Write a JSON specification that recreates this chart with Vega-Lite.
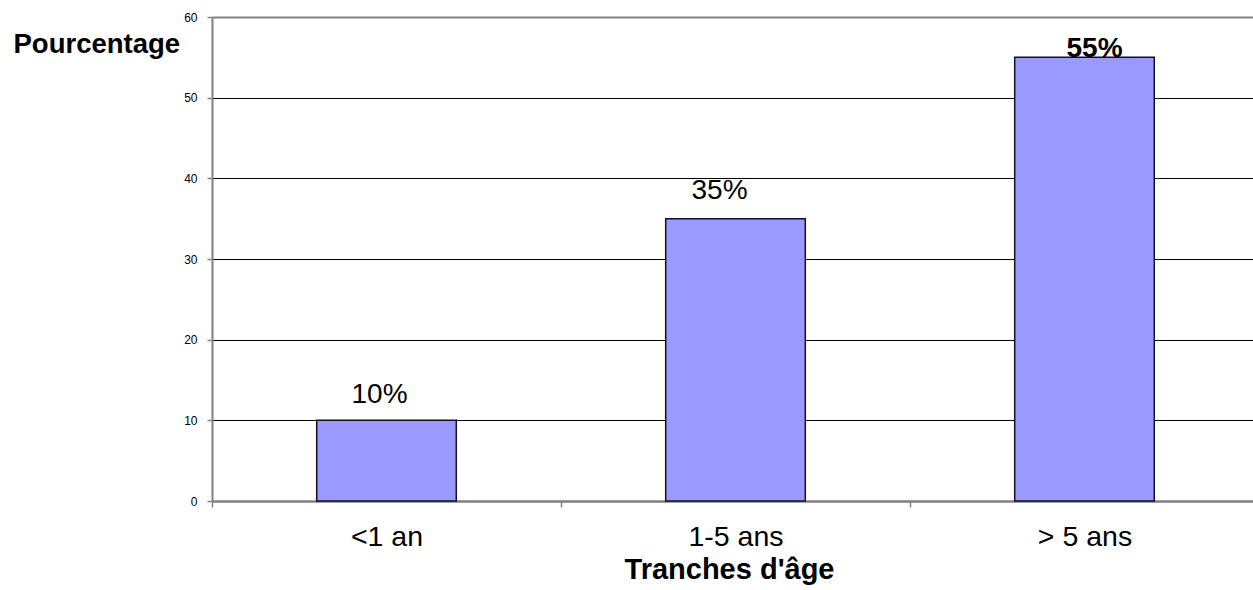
{
  "$schema": "https://vega.github.io/schema/vega-lite/v6.json",
  "autosize": "none",
  "padding": {"left": 212, "top": 17, "right": 0, "bottom": 89},
  "width": 1041,
  "height": 484,
  "background": "white",
  "config": {
    "view": {"stroke": null},
    "font": "Liberation Sans"
  },
  "data": {
    "values": [
      {"age": "<1 an", "pct": 10, "label": "10%"},
      {"age": "1-5 ans", "pct": 35, "label": "35%"},
      {"age": "> 5 ans", "pct": 55, "label": "55%"}
    ]
  },
  "encoding": {
    "x": {
      "field": "age",
      "type": "nominal",
      "sort": null,
      "scale": {"range": [0, 1047], "paddingInner": 0.6, "paddingOuter": 0.3},
      "axis": {
        "title": "Tranches d'âge",
        "titleFont": "Liberation Sans",
        "titleFontSize": 29,
        "titleFontWeight": "bold",
        "titleColor": "black",
        "titleX": 517,
        "titleY": 77,
        "titleAlign": "center",
        "titleAnchor": null,
        "titleBaseline": "alphabetic",
        "labelAngle": 0,
        "labelFont": "Liberation Sans",
        "labelFontSize": 28.5,
        "labelColor": "black",
        "labelBaseline": "alphabetic",
        "labelPadding": 38,
        "tickSize": 6,
        "tickOffset": -174.5,
        "labelOffset": 174.5,
        "tickColor": "#808080",
        "tickWidth": 1.5,
        "domainColor": "#808080",
        "domainWidth": 2,
        "grid": false
      }
    },
    "y": {
      "field": "pct",
      "type": "quantitative",
      "scale": {"domain": [0, 60], "nice": false},
      "axis": {
        "values": [0, 10, 20, 30, 40, 50, 60],
        "title": "Pourcentage",
        "titleFont": "Liberation Sans",
        "titleFontSize": 27.5,
        "titleFontWeight": "bold",
        "titleColor": "black",
        "titleAngle": 0,
        "titleX": -199,
        "titleY": 35,
        "titleAlign": "left",
        "titleBaseline": "alphabetic",
        "labelFont": "Liberation Sans",
        "labelFontSize": 12,
        "labelColor": "black",
        "labelPadding": 10,
        "tickSize": 5,
        "tickColor": "#808080",
        "tickWidth": 1.5,
        "domainColor": "#808080",
        "domainWidth": 2,
        "grid": true,
        "gridColor": {"condition": {"test": "datum.value == 60 || datum.value == 0", "value": "#808080"}, "value": "black"},
        "gridWidth": {"condition": {"test": "datum.value == 60 || datum.value == 0", "value": 2}, "value": 1}
      }
    }
  },
  "layer": [
    {
      "mark": {"type": "bar", "fill": "#9999FF", "stroke": "#111122", "strokeWidth": 1.5}
    },
    {
      "transform": [{"filter": "datum.pct == 10"}],
      "mark": {"type": "text", "font": "Liberation Sans", "fontSize": 28, "color": "black", "baseline": "alphabetic", "dx": -7, "dy": -17},
      "encoding": {"text": {"field": "label"}}
    },
    {
      "transform": [{"filter": "datum.pct == 35"}],
      "mark": {"type": "text", "font": "Liberation Sans", "fontSize": 28, "color": "black", "baseline": "alphabetic", "dx": -16, "dy": -19.5},
      "encoding": {"text": {"field": "label"}}
    },
    {
      "transform": [{"filter": "datum.pct == 55"}],
      "mark": {"type": "text", "font": "Liberation Sans", "fontSize": 28, "fontWeight": "bold", "color": "black", "baseline": "alphabetic", "dx": 10, "dy": 0},
      "encoding": {"text": {"field": "label"}}
    }
  ]
}
